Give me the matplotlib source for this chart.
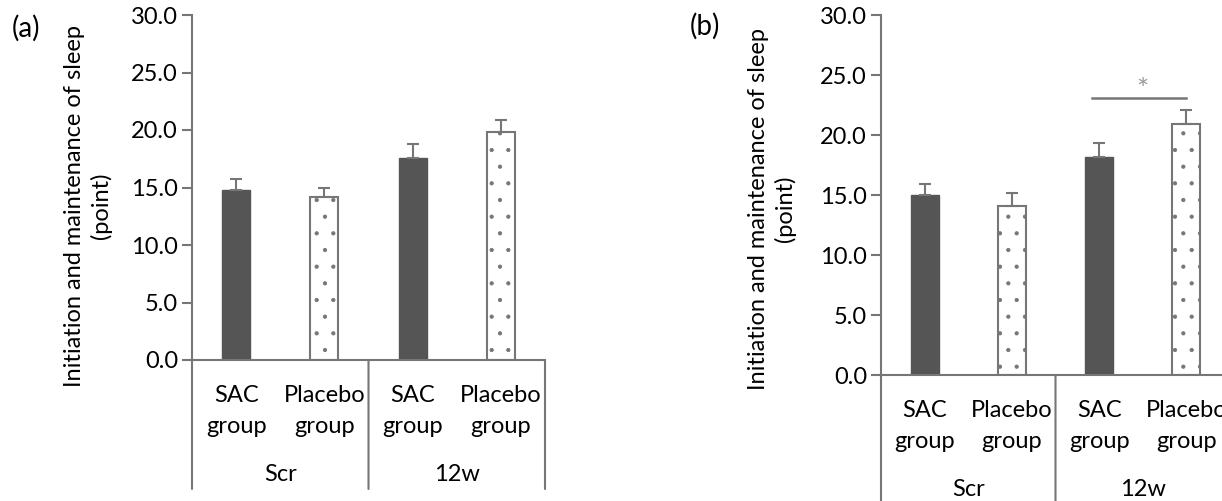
import numpy as np
import matplotlib
matplotlib.use("Agg")
import matplotlib.pyplot as plt
from matplotlib.transforms import offset_copy

plt.rcParams['font.family'] = ['Lato', 'DejaVu Sans']
plt.rcParams['hatch.linewidth'] = 0.6

groups = ['SAC', 'Placebo', 'SAC', 'Placebo']
periods = ['Scr', '12w']
yticks = [0, 5, 10, 15, 20, 25, 30]

# panel (a)
vals_a = [14.8, 14.2, 17.6, 19.8]
err_a = [0.95, 0.8, 1.15, 1.05]
# panel (b)
vals_b = [15.0, 14.1, 18.2, 20.9]
err_b = [0.95, 1.1, 1.15, 1.2]
sig_b = (1.92, 3.0, 23.1)

DARK = '#555555'
LINE = '#767676'
FS = 17

fig = plt.figure(figsize=(12.22, 5.01), dpi=100)


def panel(rect, vals, errs, letter, letter_xy, ylab_xy, divider_px):
    ax = fig.add_axes(rect)
    x = np.arange(len(vals))
    for i, (v, e) in enumerate(zip(vals, errs)):
        if i % 2 == 0:
            ax.bar(x[i], v, width=0.32, color=DARK, edgecolor=DARK, zorder=2)
        else:
            ax.bar(x[i], v, width=0.32, color='white', edgecolor=LINE,
                   linewidth=1.5, hatch='.', zorder=2)
        ax.errorbar(x[i], v, yerr=[[0], [e]], color=LINE, capsize=4.5,
                    elinewidth=1.5, capthick=1.5, zorder=3)
    ax.set_xlim(-0.5, 3.5)
    ax.set_ylim(0, 30)
    ax.set_yticks(yticks)
    ax.set_yticklabels([f'{t:.1f}' for t in yticks], fontsize=FS)
    ax.set_xticks([])
    for s in ['top', 'right']:
        ax.spines[s].set_visible(False)
    for s in ['left', 'bottom']:
        ax.spines[s].set_color(LINE)
        ax.spines[s].set_linewidth(1.5)
    ax.tick_params(axis='y', length=7, width=1.5, color=LINE, pad=3)

    # group dividers below the axis
    tr = ax.get_xaxis_transform()
    for xd in [-0.5, 1.5, 3.5]:
        ax.annotate('', xy=(xd, 0), xycoords=tr,
                    xytext=(0, -divider_px), textcoords='offset pixels',
                    arrowprops=dict(arrowstyle='-', color=LINE, lw=1.5,
                                    shrinkA=0, shrinkB=0))
    tr1 = offset_copy(tr, fig=fig, y=-42, units='dots')
    tr2 = offset_copy(tr, fig=fig, y=-73, units='dots')
    for i, g in enumerate(groups):
        ax.text(x[i], 0, g, transform=tr1, ha='center', va='baseline',
                fontsize=FS)
        ax.text(x[i], 0, 'group', transform=tr2, ha='center',
                va='baseline', fontsize=FS)
    per_tr = offset_copy(tr, fig=fig, y=-121, units='dots')
    for j, p in enumerate(periods):
        ax.text(0.5 + 2 * j, 0, p, transform=per_tr, ha='center',
                va='baseline', fontsize=FS)

    fig.text(letter_xy[0], letter_xy[1], letter, fontsize=20,
             ha='center', va='center')
    fig.text(ylab_xy[0], ylab_xy[1],
             'Initiation and maintenance of sleep\n(point)',
             rotation=90, ha='center', va='center', multialignment='center',
             fontsize=FS, linespacing=1.28)
    return ax


W, H = 1222, 501
ax_a = panel([192 / W, (H - 360) / H, 353 / W, 345 / H], vals_a, err_a,
             '(a)', (26 / W, (H - 28) / H), (88 / W, (H - 206) / H), 129)
ax_b = panel([881 / W, (H - 375) / H, 349 / W, 360 / H], vals_b, err_b,
             '(b)', (705 / W, (H - 26) / H), (772 / W, (H - 209) / H), 140)

x0, x1, ys = sig_b
ax_b.plot([x0, x1], [ys, ys], color=LINE, lw=1.8, clip_on=False)
ax_b.text(2.49, ys - 0.1, '*', ha='center', va='baseline',
          fontsize=21, color='#9a9a9a')

fig.savefig('out.png', dpi=100)
